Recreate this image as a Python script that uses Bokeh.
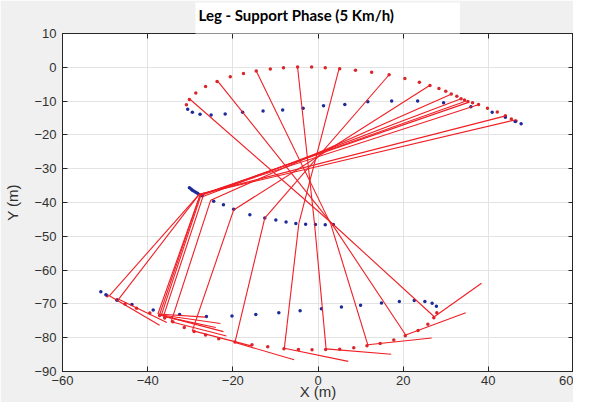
from bokeh.plotting import figure
from bokeh.models import FixedTicker, LinearAxis, Range1d, CustomJSTickFormatter
from bokeh.embed import file_html
from bokeh.resources import INLINE

# ---- data ----
x_ticks = [-60, -40, -20, 0, 20, 40, 60]
y_ticks = [-90, -80, -70, -60, -50, -40, -30, -20, -10, 0, 10]

# leg segments per frame: hip -> knee -> ankle -> toe
hip_x = [46.5, 44.3, 37.8, 35.5, 34.8, 33.6, 31.4, 26.3, 16.7, 5.0, -4.8, -14.5, -23.6, -30.2]
hip_y = [-15.5, -14.3, -11.0, -10.3, -10.0, -9.3, -7.9, -5.3, -2.2, -0.2, 0.1, -1.1, -4.0, -9.3]
knee_x = [-27.9, -27.9, -27.7, -27.7, -27.5, -27.0, -25.2, -19.8, -12.5, -4.5, -0.8, 3.0, 3.3, 3.6]
knee_y = [-37.6, -37.6, -37.8, -37.8, -37.9, -38.2, -39.3, -42.2, -44.6, -46.2, -46.5, -46.4, -46.4, -46.5]
ankle_x = [-49.0, -46.8, -37.6, -37.2, -36.8, -36.3, -34.5, -29.5, -19.5, -7.9, 1.9, 11.7, 20.6, 27.3]
ankle_y = [-67.6, -68.6, -73.0, -73.2, -73.4, -73.7, -75.3, -77.9, -81.4, -83.1, -83.3, -82.1, -79.2, -73.8]
toe_x = [-37.2, -35.5, -26.4, -22.9, -22.2, -24.0, -21.5, -15.5, -5.6, 7.1, 17.2, 26.7, 34.7, 38.4]
toe_y = [-76.3, -75.5, -73.9, -75.8, -78.2, -77.0, -79.5, -82.5, -86.5, -87.0, -84.9, -80.1, -72.6, -63.9]

# trajectories (dots)
top_red_x = [-30.9, -30.2, -28.7, -26.4, -23.7, -20.6, -17.5, -14.5, -11.2, -8.1, -4.8, -1.5, 1.7, 5.1,
             8.8, 12.6, 16.7, 20.4, 23.8, 26.3, 28.4, 30.0, 31.3, 32.6, 33.6, 34.4, 35.2, 36.3, 37.7,
             39.8, 42.1, 44.0, 45.4, 46.5]
top_red_y = [-11.1, -9.5, -7.6, -5.7, -4.2, -2.8, -1.8, -1.1, -0.5, -0.1, 0.1, 0.1, -0.1, -0.4,
             -0.9, -1.5, -2.2, -3.3, -4.4, -5.4, -6.3, -7.1, -7.9, -8.6, -9.3, -9.7, -10.1, -10.5, -11.0,
             -12.1, -13.2, -14.3, -15.3, -15.9]
top_blue_x = [-30.6, -29.5, -27.7, -25.1, -21.8, -17.7, -12.9, -8.3, -3.5, 1.3, 6.3, 11.7, 17.3, 23.4,
              29.5, 35.9, 40.9, 44.0, 46.3, 47.7]
top_blue_y = [-12.4, -13.3, -13.9, -14.1, -13.8, -13.3, -12.9, -12.6, -12.1, -11.4, -11.0, -10.2, -10.0, -10.0,
              -10.5, -11.7, -13.3, -14.8, -16.0, -16.7]
knee_blue_x = [-30.2, -29.8, -29.5, -29.1, -28.7, -28.3, -27.9, -27.2, -24.5, -22.2, -19.8, -16.0, -12.5,
               -9.9, -7.5, -5.2, -2.9, -0.6, 1.7, 3.6]
knee_blue_y = [-35.6, -36.0, -36.4, -36.7, -37.0, -37.3, -37.6, -38.0, -39.6, -40.7, -42.0, -43.6, -44.6,
               -45.2, -45.8, -46.2, -46.4, -46.5, -46.6, -46.5]
bot_red_x = [-49.5, -47.2, -45.3, -42.6, -39.5, -37.2, -36.0, -34.1, -31.4, -29.1, -26.4, -23.3, -19.5,
             -15.5, -11.8, -8.0, -4.6, -1.4, 1.8, 5.1, 8.4, 11.5, 14.6, 17.8, 20.5, 23.5, 25.8, 27.2, 27.9]
bot_red_y = [-67.6, -68.8, -70.0, -71.3, -72.7, -73.4, -74.2, -75.3, -77.0, -78.2, -79.2, -80.3, -81.3,
             -82.1, -82.7, -83.3, -83.5, -83.6, -83.5, -83.4, -83.0, -82.4, -81.7, -80.7, -79.4, -77.9, -76.0,
             -74.1, -72.6]
bot_blue_x = [-51.0, -49.8, -47.2, -43.7, -38.7, -32.5, -26.2, -20.2, -14.6, -9.2, -4.2, 0.8, 5.5, 10.0,
              14.9, 19.1, 22.6, 25.1, 26.8, 27.8]
bot_blue_y = [-66.4, -67.3, -68.9, -70.2, -71.8, -73.1, -73.7, -73.6, -73.1, -72.6, -72.0, -71.4, -70.9, -70.4,
              -69.7, -69.3, -69.0, -69.3, -69.8, -70.7]

AX = "#262626"
TXT = "#303030"

p = figure(width=573, height=402, x_range=Range1d(-60, 60), y_range=Range1d(-90, 10),
           output_backend="svg", toolbar_location=None,
           min_border_left=62, min_border_right=0, min_border_top=0, min_border_bottom=0,
           background_fill_color="white", border_fill_color="#f0f0f0",
           outline_line_color=AX, x_axis_label="X (m)", y_axis_label="Y (m)")

p.title.text = "Leg - Support Phase (5 Km/h)"
p.title.text_font = "Lato"
p.title.text_font_style = "bold"
p.title.text_font_size = "15px"
p.title.text_color = "black"
p.title.align = "left"
p.title.offset = 133
p.title.background_fill_color = "white"
p.title.padding = (3, 66, 3, 10)
p.title.standoff = 0

for ax in (p.xaxis[0], p.yaxis[0]):
    ax.major_tick_in = 5
    ax.major_tick_out = 0
    ax.minor_tick_line_color = None
    ax.axis_line_color = AX
    ax.major_tick_line_color = AX
    ax.major_label_text_font = "Liberation Sans"
    ax.major_label_text_font_size = "13px"
    ax.major_label_text_color = TXT
    ax.axis_label_text_font = "Liberation Sans"
    ax.axis_label_text_font_size = "15px"
    ax.axis_label_text_font_style = "normal"
    ax.axis_label_text_color = TXT
p.xaxis.ticker = FixedTicker(ticks=x_ticks)
p.yaxis.ticker = FixedTicker(ticks=y_ticks)
p.xaxis.major_label_standoff = 4
p.xaxis.axis_label_standoff = -5
p.yaxis.major_label_standoff = 6
p.yaxis.axis_label_standoff = 10

blank = CustomJSTickFormatter(code="return ''")
for loc, tk in (("right", y_ticks), ("above", x_ticks)):
    a = LinearAxis(ticker=FixedTicker(ticks=tk), formatter=blank,
                   major_tick_in=5, major_tick_out=0, minor_tick_line_color=None,
                   axis_line_color=AX, major_tick_line_color=AX, major_label_standoff=0,
                   axis_label_standoff=0, major_label_text_font_size="1px")
    p.add_layout(a, loc)

p.xgrid.ticker = FixedTicker(ticks=x_ticks)
p.ygrid.ticker = FixedTicker(ticks=y_ticks)
p.grid.grid_line_color = "#e3e3e3"
p.grid.grid_line_width = 1

# dots
p.scatter(top_red_x, top_red_y, size=3.5, color="#d8262a", line_color=None)
p.scatter(top_blue_x, top_blue_y, size=3.5, color="#1c2a9a", line_color=None)
p.scatter(knee_blue_x, knee_blue_y, size=3.5, color="#1c2a9a", line_color=None)
p.scatter(bot_red_x, bot_red_y, size=3.5, color="#d8262a", line_color=None)
p.scatter(bot_blue_x, bot_blue_y, size=3.5, color="#1c2a9a", line_color=None)

# leg segments
lc = "#f01e24"
p.segment(hip_x, hip_y, knee_x, knee_y, line_color=lc, line_width=1.1)
p.segment(knee_x, knee_y, ankle_x, ankle_y, line_color=lc, line_width=1.1)
p.segment(ankle_x, ankle_y, toe_x, toe_y, line_color=lc, line_width=1.1)

open("out.html", "w").write(file_html(p, INLINE))
